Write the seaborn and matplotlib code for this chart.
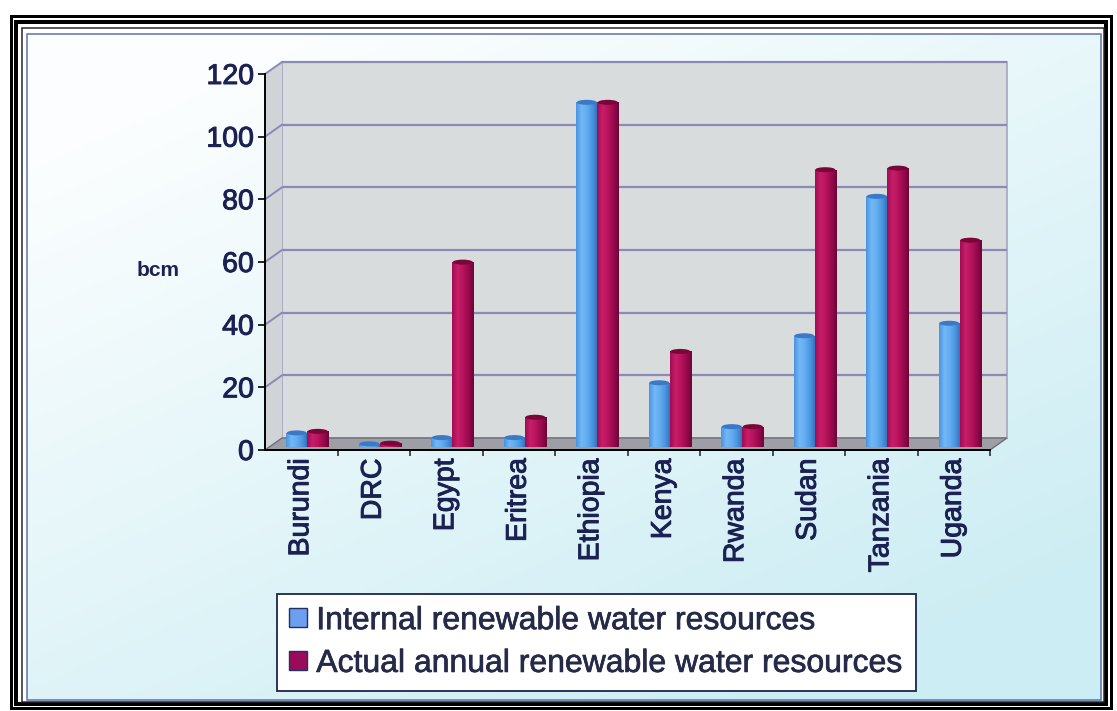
import numpy as np
import pandas as pd
import matplotlib
matplotlib.use("Agg")
import matplotlib.pyplot as plt
import matplotlib.patheffects as pe
import seaborn as sns
from matplotlib.patches import Rectangle, Polygon, Ellipse, Patch
from matplotlib.transforms import ScaledTranslation
from matplotlib.colors import LinearSegmentedColormap

# ---- data (bcm) ----
countries = ["Burundi", "DRC", "Egypt", "Eritrea", "Ethiopia",
             "Kenya", "Rwanda", "Sudan", "Tanzania", "Uganda"]
internal = [4.5, 1.0, 3.0, 3.0, 110, 20.5, 6.5, 35.5, 80, 39.5]
actual = [5.0, 1.2, 59.0, 9.5, 110, 30.5, 6.5, 88.5, 89, 66]
series_names = ["Internal renewable water resources",
                "Actual annual renewable water resources"]
y_ticks = [0, 20, 40, 60, 80, 100, 120]

BLUE = "#5ea8ec"
RED = "#b3125c"
TEXT = "#1b2152"

sns.set_style("white")
plt.rcParams["font.family"] = ["Liberation Sans", "DejaVu Sans"]

W, H = 1117, 711
fig = plt.figure(figsize=(W / 100, H / 100), dpi=100)


def fx(px):
    return px / W


def fy(py):
    return 1 - py / H


heavy = [pe.withStroke(linewidth=0.7, foreground=TEXT)]

# ---- soft white-to-cyan background inside the frame ----
bg = fig.add_axes([fx(27), fy(702), fx(1102) - fx(27), fy(34) - fy(702)])
bg.set_axis_off()
xx, yy = np.meshgrid(np.linspace(0, 1, 300), np.linspace(0, 1, 200))
t = np.clip(0.55 * xx + 0.75 * yy - 0.15, 0, 1)[..., None]
c0 = np.array([0.985, 0.995, 0.997])
c1 = np.array([0.80, 0.93, 0.955])
bg.imshow(c0 * (1 - t) + c1 * t, aspect="auto", extent=(0, 1, 0, 1))
bg.set_xlim(0, 1)
bg.set_ylim(0, 1)

# ---- main axes ----
ax = fig.add_axes([fx(265), fy(450), (990 - 265) / W, (450 - 74) / H])
ax.set_facecolor("none")

df = pd.DataFrame({
    "country": countries * 2,
    "series": [series_names[0]] * len(countries) + [series_names[1]] * len(countries),
    "value": internal + actual,
})

sns.barplot(data=df, x="country", y="value", hue="series",
            palette=[BLUE, RED], width=0.58, saturation=1,
            legend=False, ax=ax, zorder=3)
bars = list(ax.patches)

ax.set_xlim(-0.5, len(countries) - 0.5)
ax.set_ylim(0, 120)
x0, x1 = ax.get_xlim()

# depth of the pseudo-3D box, in data units
ddx = 17 / 72.5
ddy = 12 * 120 / 376

# back wall, side wall and floor
ax.add_patch(Rectangle((x0 + ddx, ddy), x1 - x0, 120, facecolor="#d9dcdd",
                       edgecolor="#a4a6c0", lw=1.2, zorder=0.5, clip_on=False))
ax.add_patch(Polygon([(x0, 0), (x0 + ddx, ddy), (x0 + ddx, 120 + ddy), (x0, 120)],
                     closed=True, facecolor="#d0d4d7", edgecolor="none",
                     zorder=0.5, clip_on=False))
ax.add_patch(Polygon([(x0, 0), (x1, 0), (x1 + ddx, ddy), (x0 + ddx, ddy)],
                     closed=True, facecolor="#9d9ea6", edgecolor="#6e6e78",
                     lw=1.0, zorder=0.6, clip_on=False))
for v in y_ticks[1:]:
    ax.plot([x0 + ddx, x1 + ddx], [v + ddy, v + ddy], color="#8b89b5", lw=1.6,
            zorder=0.7, clip_on=False, solid_capstyle="butt")
    ax.plot([x0, x0 + ddx], [v, v + ddy], color="#8b89b5", lw=1.4,
            zorder=0.7, clip_on=False)

# cylinder-like shading for the columns
offset = ScaledTranslation(6 / 100, 3 / 100, fig.dpi_scale_trans)
tr = ax.transData + offset
cmaps = [
    LinearSegmentedColormap.from_list("b", ["#4a94e0", "#74b8f6", "#62acf0", "#4a94e0", "#2f6cbc"]),
    LinearSegmentedColormap.from_list("r", ["#a00c52", "#c81e6a", "#b8145e", "#9a0a4e", "#6e0636"]),
]
caps = ["#3b78c6", "#7a0638"]
grad = np.linspace(0, 1, 64).reshape(1, -1)
n = len(countries)
for i, p in enumerate(bars):
    k = 0 if i < n else 1
    p.set_transform(tr)
    p.set_edgecolor("none")
    bx, bw, bh = p.get_x(), p.get_width(), p.get_height()
    im = ax.imshow(grad, extent=(bx, bx + bw, 0, bh), aspect="auto",
                   cmap=cmaps[k], transform=tr, zorder=3.1,
                   interpolation="bilinear")
    im.set_clip_path(p)
    ax.add_patch(Ellipse((bx + bw / 2, bh), bw * 0.95, 1.6, transform=tr,
                         facecolor=caps[k], edgecolor="none", zorder=3.2))

ax.set_xlim(x0, x1)
ax.set_ylim(0, 120)
ax.set_aspect("auto")

# axes and ticks
for s in ["top", "right"]:
    ax.spines[s].set_visible(False)
for s in ["left", "bottom"]:
    ax.spines[s].set_color("black")
    ax.spines[s].set_linewidth(1.4)
    ax.spines[s].set_zorder(4)

ax.set_yticks(y_ticks)
ax.set_yticklabels([str(v) for v in y_ticks])
ax.tick_params(axis="y", left=True, length=5, width=1.2, color="black",
               labelsize=20.5, labelcolor=TEXT, pad=3)
ax.set_xticks(range(n))
ax.set_xticklabels(countries, rotation=90)
ax.tick_params(axis="x", which="major", length=0, labelsize=20.5,
               labelcolor=TEXT, pad=6)
ax.set_xticks(np.arange(0.5, n, 1), minor=True)
ax.tick_params(axis="x", which="minor", bottom=True, length=4.5, width=1.2,
               color="#303030", direction="out")
ax.set_xlabel("")
ax.set_ylabel("")
for lab in ax.get_xticklabels() + ax.get_yticklabels():
    lab.set_path_effects(heavy)

fig.text(fx(158), fy(270), "bcm", fontsize=15, fontweight="bold",
         color=TEXT, ha="center", va="center")

# legend
handles = [Patch(facecolor="#6c9fee", edgecolor="#233060", lw=1.0),
           Patch(facecolor="#9a0c5a", edgecolor="#233060", lw=1.0)]
leg = fig.legend(handles, series_names, loc="upper left",
                 bbox_to_anchor=(fx(277), fy(594)), fontsize=23,
                 frameon=True, fancybox=False, edgecolor="#1e2548",
                 framealpha=1, handlelength=0.55, handleheight=0.55,
                 handletextpad=0.3, borderpad=0.38, labelspacing=0.4,
                 borderaxespad=0)
leg.get_frame().set_linewidth(1.3)
for txt in leg.get_texts():
    txt.set_color("#252a48")
    txt.set_path_effects([pe.withStroke(linewidth=0.5, foreground="#252a48")])

# double picture frame
def frame(l, t_, r, b, lw_px, color):
    fig.add_artist(Rectangle((fx(l), fy(b)), fx(r) - fx(l), fy(t_) - fy(b),
                             transform=fig.transFigure, fill=False,
                             edgecolor=color, lw=lw_px * 0.72))

frame(10.5, 15.5, 1110.5, 707.5, 3, "black")
frame(16, 22, 1106, 704, 4, "black")
frame(21.5, 27.5, 1104, 702, 1.5, "#222222")
frame(27, 33.5, 1101, 700, 1.5, "#5a70a8")

fig.savefig("out.png", dpi=100)
